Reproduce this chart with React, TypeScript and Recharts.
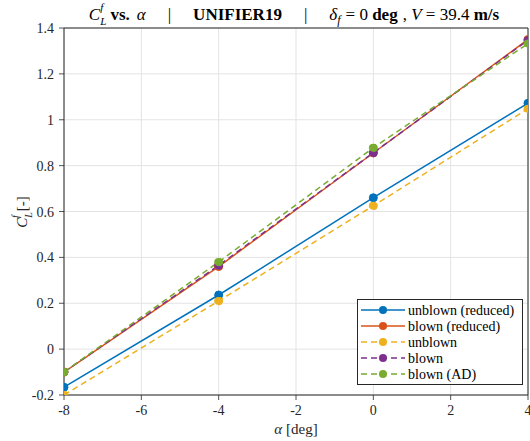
import React from 'react';
import { LineChart, Line, XAxis, YAxis, CartesianGrid, ReferenceLine } from 'recharts';

const alphas = [-8, -4, 0, 4];
const unblownReduced = [-0.166, 0.236, 0.66, 1.072];
const blownReduced = [-0.1, 0.36, 0.855, 1.35];
const unblown = [-0.2, 0.21, 0.625, 1.048];
const blown = [-0.1, 0.365, 0.856, 1.347];
const blownAD = [-0.1, 0.38, 0.878, 1.332];

const xTicks = [-8, -6, -4, -2, 0, 2, 4];
const yTicks = [-0.2, 0, 0.2, 0.4, 0.6, 0.8, 1, 1.2, 1.4];

const data = alphas.map((a, i) => ({
  alpha: a,
  ur: unblownReduced[i],
  br: blownReduced[i],
  u: unblown[i],
  b: blown[i],
  ad: blownAD[i],
}));

const series = [
  { key: 'ur', name: 'unblown (reduced)', color: '#0072BD', dash: undefined },
  { key: 'br', name: 'blown (reduced)', color: '#D95319', dash: undefined },
  { key: 'u', name: 'unblown', color: '#EDB120', dash: '6 4' },
  { key: 'b', name: 'blown', color: '#7E2F8E', dash: '6 4' },
  { key: 'ad', name: 'blown (AD)', color: '#77AC30', dash: '6 4' },
];

const FONT = '"Liberation Serif", "DejaVu Serif", serif';
const AX = '#262626';
const tStyle = { fontFamily: FONT, whiteSpace: 'pre' } as any;

const XTick = (props: any) => {
  const { x, y, payload } = props;
  return (
    <g>
      <line x1={x} x2={x} y1={y - 8} y2={y - 3} stroke={AX} strokeWidth={0.8} />
      <text x={x} y={y + 12} textAnchor="middle" style={tStyle} fontSize={14} fill={AX}>
        {String(payload.value)}
      </text>
    </g>
  );
};

const YTick = (props: any) => {
  const { x, y, payload } = props;
  return (
    <g>
      <line x1={x + 8} x2={x + 3} y1={y} y2={y} stroke={AX} strokeWidth={0.8} />
      <text x={x - 2} y={y + 5} textAnchor="end" style={tStyle} fontSize={14} fill={AX}>
        {String(payload.value)}
      </text>
    </g>
  );
};

const LegendBox = () => (
  <svg width={166} height={86} style={{ display: 'block' }}>
    <rect x={0.5} y={0.5} width={165} height={85} fill="#fff" stroke={AX} strokeWidth={1} />
    {series.map((s, i) => {
      const cy = 11 + i * 16;
      return (
        <g key={s.key}>
          <line x1={4} x2={48} y1={cy} y2={cy} stroke={s.color} strokeWidth={1.5} strokeDasharray={s.dash} />
          <circle cx={26} cy={cy} r={4} fill={s.color} />
          <text x={51} y={cy + 4.5} style={tStyle} fontSize={14} fill="#000">{s.name}</text>
        </g>
      );
    })}
  </svg>
);

export default function App() {
  return (
    <div style={{ position: 'absolute', left: 0, top: 0, width: 530, height: 441, background: '#fff' }}>
      <LineChart width={530} height={441} data={data} margin={{ top: 28, right: 2, bottom: 0, left: 0 }}>
        <CartesianGrid stroke="#e3e3e3" strokeWidth={1} />
        <XAxis
          dataKey="alpha"
          type="number"
          domain={[-8, 4]}
          ticks={xTicks}
          interval={0}
          stroke={AX}
          height={46}
          tickLine={false}
          tick={<XTick />}
          allowDataOverflow
        />
        <YAxis
          type="number"
          domain={[-0.2, 1.4]}
          ticks={yTicks}
          interval={0}
          stroke={AX}
          width={64}
          tickLine={false}
          tick={<YTick />}
          allowDataOverflow
        />
        <ReferenceLine y={1.4} stroke={AX} strokeWidth={1} />
        <ReferenceLine x={4} stroke={AX} strokeWidth={1} />
        {series.map((s) => (
          <Line
            key={s.key}
            dataKey={s.key}
            name={s.name}
            stroke={s.color}
            strokeWidth={1.5}
            strokeDasharray={s.dash}
            dot={{ r: 4, fill: s.color, stroke: s.color, strokeWidth: 1 }}
            activeDot={false}
            isAnimationActive={false}
          />
        ))}
        <text x={294} y={20} textAnchor="middle" style={tStyle} fontSize={17} fill="#000">
          <tspan fontStyle="italic">C</tspan>
          <tspan fontStyle="italic" fontSize={11} dy={5}>L</tspan>
          <tspan fontStyle="italic" fontSize={11} dx={-6} dy={-14}>f</tspan>
          <tspan dx={7} dy={9} fontWeight="bold">vs.</tspan>
          <tspan dx={7} fontStyle="italic">α</tspan>
          <tspan dx={22}>|</tspan>
          <tspan dx={22} fontWeight="bold">UNIFIER19</tspan>
          <tspan dx={22}>|</tspan>
          <tspan dx={22} fontStyle="italic">δ</tspan>
          <tspan fontStyle="italic" fontSize={12} dy={4}>f</tspan>
          <tspan dx={5} dy={-4}>= 0 </tspan>
          <tspan fontWeight="bold">deg</tspan>
          <tspan dx={5}>, </tspan>
          <tspan fontStyle="italic">V</tspan>
          <tspan> = 39.4 </tspan>
          <tspan fontWeight="bold">m/s</tspan>
        </text>
        <text
          x={0}
          y={0}
          transform="translate(27 212) rotate(-90)"
          textAnchor="middle"
          style={tStyle}
          fontSize={15}
          fill={AX}
        >
          <tspan fontStyle="italic">C</tspan>
          <tspan fontStyle="italic" fontSize={10} dy={5}>L</tspan>
          <tspan fontStyle="italic" fontSize={10} dx={-6} dy={-13}>f</tspan>
          <tspan dx={4} dy={8}>[-]</tspan>
        </text>
        <text x={296} y={434} textAnchor="middle" style={tStyle} fontSize={15} fill={AX}>
          <tspan fontStyle="italic">α</tspan>
          <tspan> [deg]</tspan>
        </text>
      </LineChart>
      <div style={{ position: 'absolute', left: 357, top: 299 }}>
        <LegendBox />
      </div>
    </div>
  );
}
